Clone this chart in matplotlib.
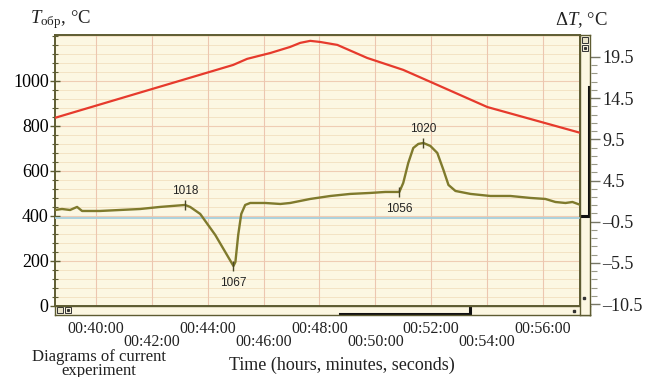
import matplotlib.pyplot as plt
from matplotlib.patches import Rectangle
from matplotlib.lines import Line2D

plt.rcParams["mathtext.fontset"] = "custom"
plt.rcParams["mathtext.rm"] = "Liberation Serif"
plt.rcParams["mathtext.it"] = "Liberation Serif:italic"

# sample temperature T_obr (left axis), time in minutes
t_red = [38.53, 44.91, 45.41, 46.24, 46.95, 47.31, 47.67, 48.03, 48.64,
         49.71, 51.0, 51.97, 54.01, 57.35]
temp_red = [836, 1071, 1098, 1124, 1151, 1169, 1178, 1173, 1160,
            1102, 1049, 996, 884, 769]

# differential temperature dT (right axis)
t_dt = [38.53, 38.78, 39.07, 39.32, 39.50, 40.14, 40.86, 41.58, 42.29, 43.19,
        43.37, 43.73, 44.27, 44.92, 44.99, 45.09, 45.20, 45.34, 45.52, 46.06,
        46.60, 46.95, 47.67, 48.39, 49.10, 49.82, 50.36, 50.86, 51.00, 51.18,
        51.36, 51.54, 51.72, 51.97, 52.22, 52.44, 52.62, 52.87, 53.41, 54.12,
        54.84, 55.56, 56.09, 56.45, 56.81, 57.06, 57.35]
dt = [0.92, 1.04, 0.92, 1.29, 0.80, 0.80, 0.92, 1.04, 1.29, 1.53,
      1.29, 0.44, -2.12, -5.88, -5.40, -2.12, 0.44, 1.53, 1.77, 1.77,
      1.65, 1.77, 2.26, 2.62, 2.87, 2.99, 3.11, 3.11, 4.20, 6.63,
      8.45, 8.94, 9.06, 8.70, 7.85, 5.78, 3.96, 3.23, 2.87, 2.62,
      2.62, 2.38, 2.26, 1.89, 1.77, 1.89, 1.53]

# labelled points on dT curve: time, dT, label, above?
mark_t = [43.19, 44.92, 50.86, 51.72]
mark_dt = [1.53, -5.88, 3.11, 9.06]
mark_lab = ["1018", "1067", "1056", "1020"]
mark_up = [True, False, False, True]

x_ticks = [40, 42, 44, 46, 48, 50, 52, 54, 56]
left_ticks = [0, 200, 400, 600, 800, 1000]
right_ticks = [-10.5, -5.5, -0.5, 4.5, 9.5, 14.5, 19.5]

W, H = 650, 377
bg = "#fcf7e2"
frame = "#5e5c32"
serif = "Liberation Serif"

fig = plt.figure(figsize=(6.5, 3.77), dpi=100)
fig.patch.set_facecolor("white")

# main axes in pixel box
x0, x1, y0, y1 = 55, 580, 35, 306
ax = fig.add_axes([x0 / W, 1 - y1 / H, (x1 - x0) / W, (y1 - y0) / H])
ax.set_facecolor(bg)
ax.set_xlim(38.53, 57.33)
ax.set_ylim(0, 1204)

# grid
for v in range(0, 1204, 40):
    ax.axhline(v, color="#f3e3c4", lw=0.7, zorder=0)
for v in left_ticks:
    ax.axhline(v, color="#efcdb4", lw=0.8, zorder=0)
for v in x_ticks:
    ax.axvline(v, color="#ecc6b0", lw=0.8, zorder=0)

ax.plot(t_red, temp_red, color="#e63a2c", lw=1.6, zorder=3)

ax.set_yticks(left_ticks)
ax.set_yticks(range(0, 1204, 40), minor=True)
ax.tick_params(axis="y", which="major", direction="inout", length=7, width=1,
               color=frame, labelsize=13, pad=1)
ax.tick_params(axis="y", which="minor", direction="inout", length=5, width=0.8,
               color=frame)
for lab in ax.get_yticklabels():
    lab.set_fontfamily(serif)

# two rows of time labels
ax.set_xticks([40, 44, 48, 52, 56])
ax.set_xticklabels(["00:%02d:00" % m for m in [40, 44, 48, 52, 56]])
ax.set_xticks([42, 46, 50, 54], minor=True)
ax.set_xticklabels(["00:%02d:00" % m for m in [42, 46, 50, 54]], minor=True)
ax.tick_params(axis="x", which="major", length=3, color=frame, labelsize=11.5, pad=7.5)
ax.tick_params(axis="x", which="minor", length=3, color=frame, labelsize=11.5, pad=17)
for lab in ax.get_xticklabels() + ax.get_xticklabels(minor=True):
    lab.set_fontfamily(serif)
    lab.set_color("#222222")

for s in ax.spines.values():
    s.set_color(frame)
    s.set_linewidth(1.4)

# right axis for dT
ax2 = ax.twinx()
ax2.set_ylim(-10.74, 22.17)
ax2.axhline(0, color="#a6cfdc", lw=1.3, zorder=1)
ax2.plot(t_dt, dt, color="#7f7a2c", lw=1.7, zorder=4)
for tt, dd, lab, up in zip(mark_t, mark_dt, mark_lab, mark_up):
    ax2.plot([tt], [dd], marker="|", markersize=7, color="#4a4826", zorder=5)
    ax2.annotate(lab, (tt, dd), xytext=(0, 10 if up else -12), textcoords="offset points",
                 ha="center", va="center", fontsize=8.5, family="Liberation Sans",
                 color="#222222")
ax2.set_yticks(right_ticks)
ax2.set_yticklabels(["%g" % v if v >= 0 else "\u2013%g" % -v for v in right_ticks])
ax2.set_yticks([v + k for v in right_ticks[:-1] for k in range(1, 5)], minor=True)
ax2.spines["right"].set_position(("outward", 10))
ax2.spines["right"].set_visible(False)
for s in ["left", "top", "bottom"]:
    ax2.spines[s].set_visible(False)
ax2.tick_params(axis="y", which="major", direction="inout", length=8, width=1,
                color="#777766", labelsize=13, pad=2)
ax2.tick_params(axis="y", which="minor", direction="inout", length=5, width=0.8,
                color="#999988")
for lab in ax2.get_yticklabels():
    lab.set_fontfamily(serif)
    lab.set_color("#222222")

# bottom scroll strip
sb = fig.add_axes([x0 / W, 1 - 315 / H, (590 - x0) / W, 9 / H])
sb.set_facecolor(bg)
sb.set_xlim(x0, 590)
sb.set_ylim(315, 306)
sb.set_xticks([])
sb.set_yticks([])
for s in sb.spines.values():
    s.set_color(frame)
    s.set_linewidth(1.0)
sb.add_line(Line2D([340, 470, 470], [314.5, 314.5, 306], color="#111111", lw=2.2))
sb.add_patch(Rectangle((57, 307.5), 6, 6, facecolor="#e8e2c8", edgecolor="#333333", lw=0.7))
sb.add_patch(Rectangle((64.5, 307.5), 6, 6, facecolor="#f4efda", edgecolor="#333333", lw=0.7))
sb.plot([67.5], [310.5], marker="s", markersize=1.2, color="#333333")
sb.plot([574], [311], marker="s", markersize=1.5, color="#333333")

# right scroll strip
vs = fig.add_axes([x1 / W, 1 - 315 / H, 10 / W, (315 - y0) / H])
vs.set_facecolor(bg)
vs.set_xlim(x1, 590)
vs.set_ylim(315, y0)
vs.set_xticks([])
vs.set_yticks([])
for s in vs.spines.values():
    s.set_color(frame)
    s.set_linewidth(1.0)
vs.add_line(Line2D([589, 589, 581], [87, 216, 216], color="#111111", lw=2.2))
vs.add_patch(Rectangle((582, 37), 6, 6, facecolor="#e8e2c8", edgecolor="#333333", lw=0.7))
vs.add_patch(Rectangle((582, 44.5), 6, 6, facecolor="#f4efda", edgecolor="#333333", lw=0.7))
vs.plot([585], [47.5], marker="s", markersize=1.2, color="#333333")
vs.plot([584], [298], marker="s", markersize=1.5, color="#333333")

# axis titles
fig.text(30 / W, 1 - 20 / H, r"$\mathit{T}_{\mathrm{обр}}$, °C", fontsize=13.5,
         family=serif, va="center", color="#222222")
fig.text(555 / W, 1 - 20 / H, r"Δ$\mathit{T}$, °C", fontsize=13.5, family=serif,
         va="center", color="#222222")

fig.text(99 / W, 1 - 364 / H, "Diagrams of current\nexperiment", fontsize=12,
         family=serif, ha="center", va="center", linespacing=0.88, color="#222222")
fig.text(342 / W, 1 - 365 / H, "Time (hours, minutes, seconds)", fontsize=13,
         family=serif, ha="center", va="center", color="#222222")

plt.savefig("out.png", dpi=100, facecolor="white")
plt.close()
